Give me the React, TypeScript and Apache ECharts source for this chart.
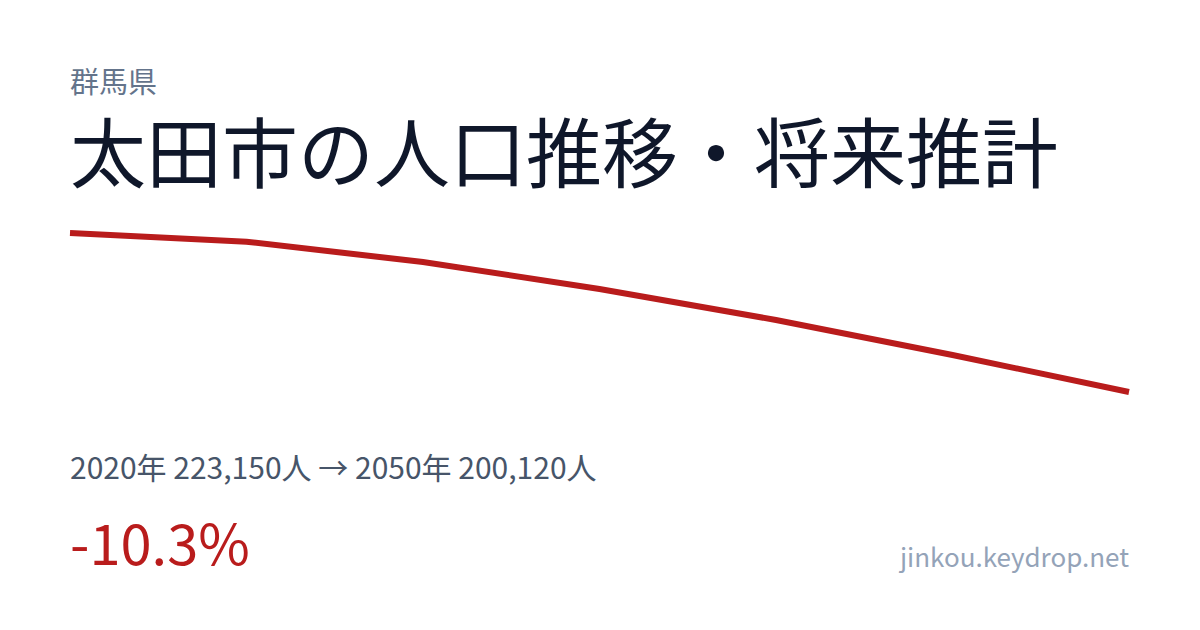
import React, { useEffect, useRef } from 'react';
import * as echarts from 'echarts';

const years = ['2020', '2025', '2030', '2035', '2040', '2045', '2050'];
const population = [223150, 221890, 218950, 215040, 210550, 205480, 200120];

const prefecture = '群馬県';
const heading = '太田市の人口推移・将来推計';
const summary = '2020年 223,150人 → 2050年 200,120人';
const change = '-10.3%';
const site = 'jinkou.keydrop.net';

const FONT = '"Noto Sans CJK JP", "Noto Sans", sans-serif';

export default function App() {
  const chartRef = useRef<HTMLDivElement>(null);

  useEffect(() => {
    document.body.style.margin = '0';
    if (!chartRef.current) return;
    const chart = echarts.init(chartRef.current, null, { renderer: 'svg' });

    const option = {
      animation: false,
      backgroundColor: '#ffffff',
      grid: { left: 70, right: 71, top: 233, bottom: 238, containLabel: false },
      xAxis: {
        type: 'category',
        data: years,
        boundaryGap: false,
        show: false
      },
      yAxis: {
        type: 'value',
        min: Math.min(...population),
        max: Math.max(...population),
        show: false
      },
      series: [
        {
          type: 'line',
          data: population,
          showSymbol: false,
          symbol: 'none',
          lineStyle: { color: '#b91c1c', width: 6, cap: 'butt', join: 'miter' }
        }
      ],
      graphic: [
        {
          type: 'text',
          x: 70,
          y: 80,
          style: {
            text: prefecture,
            font: `400 29px ${FONT}`,
            fill: '#64748b',
            verticalAlign: 'middle',
            lineHeight: 29
          }
        },
        {
          type: 'text',
          x: 70,
          y: 149,
          style: {
            text: heading,
            font: `400 76px ${FONT}`,
            fill: '#0f172a',
            verticalAlign: 'middle',
            lineHeight: 76
          }
        },
        {
          type: 'text',
          x: 70,
          y: 466,
          style: {
            text: summary,
            font: `400 30px ${FONT}`,
            fill: '#475569',
            verticalAlign: 'middle'
          }
        },
        {
          type: 'text',
          x: 70,
          y: 540,
          style: {
            text: change,
            font: `400 56px ${FONT}`,
            fill: '#b91c1c',
            verticalAlign: 'middle'
          }
        },
        {
          type: 'text',
          x: 1129,
          y: 555,
          style: {
            text: site,
            font: `400 26px ${FONT}`,
            fill: '#94a3b8',
            align: 'right',
            verticalAlign: 'middle'
          }
        }
      ]
    };

    chart.setOption(option);
    return () => chart.dispose();
  }, []);

  return <div ref={chartRef} style={{ width: 1200, height: 630 }} />;
}
